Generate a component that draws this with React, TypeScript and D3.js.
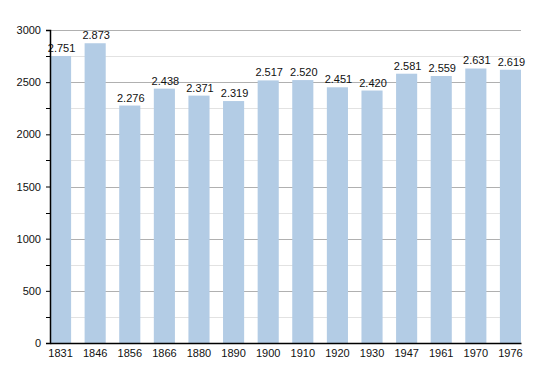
import React, { useRef, useEffect } from "react";
import * as d3 from "d3";

const years = ["1831", "1846", "1856", "1866", "1880", "1890", "1900", "1910", "1920", "1930", "1947", "1961", "1970", "1976"];
const population = [2751, 2873, 2276, 2438, 2371, 2319, 2517, 2520, 2451, 2420, 2581, 2559, 2631, 2619];
const yTicks = [0, 500, 1000, 1500, 2000, 2500, 3000];
const yMinor = [250, 750, 1250, 1750, 2250, 2750];

const App = () => {
  const ref = useRef<SVGSVGElement>(null);

  useEffect(() => {
    const width = 550;
    const height = 373;
    const margin = { top: 30, right: 29, bottom: 30, left: 50 };

    const svg = d3.select(ref.current);
    svg.selectAll("*").remove();

    const x = d3
      .scaleBand()
      .domain(years)
      .range([margin.left, width - margin.right])
      .paddingInner(0.39)
      .paddingOuter(0);

    const y = d3
      .scaleLinear()
      .domain([0, 3000])
      .range([height - margin.bottom, margin.top]);

    const fmt = (v: number) => d3.format(",")(v).replace(/,/g, ".");

    // mřížka
    svg
      .append("g")
      .selectAll("line")
      .data(yMinor)
      .join("line")
      .attr("x1", margin.left)
      .attr("x2", width - margin.right)
      .attr("y1", (d) => Math.round(y(d)) + 0.5)
      .attr("y2", (d) => Math.round(y(d)) + 0.5)
      .attr("stroke", "#e2e2e2");

    svg
      .append("g")
      .selectAll("line")
      .data(yTicks.slice(1))
      .join("line")
      .attr("x1", margin.left)
      .attr("x2", width - margin.right)
      .attr("y1", (d) => Math.round(y(d)) + 0.5)
      .attr("y2", (d) => Math.round(y(d)) + 0.5)
      .attr("stroke", "#b0b0b0");

    // sloupce
    svg
      .append("g")
      .attr("fill", "#b3cce5")
      .selectAll("rect")
      .data(population)
      .join("rect")
      .attr("x", (d, i) => x(years[i])!)
      .attr("y", (d) => y(d))
      .attr("width", x.bandwidth())
      .attr("height", (d) => y(0) - y(d));

    // hodnoty nad sloupci
    svg
      .append("g")
      .attr("font-family", "Liberation Sans, Arial, sans-serif")
      .attr("font-size", "11px")
      .attr("fill", "#111")
      .attr("text-anchor", "middle")
      .selectAll("text")
      .data(population)
      .join("text")
      .attr("x", (d, i) => x(years[i])! + x.bandwidth() / 2 + 1)
      .attr("y", (d) => y(d) - 4)
      .text((d) => fmt(d));

    // osy
    const yAxis = svg
      .append("g")
      .attr("transform", `translate(${margin.left},0)`)
      .call(d3.axisLeft(y).tickValues(yTicks).tickSize(4).tickFormat((d) => String(d)));
    yAxis.select(".domain").attr("stroke", "#000").attr("stroke-width", 1.5);
    yAxis.selectAll("text").attr("font-family", "Liberation Sans, Arial, sans-serif").attr("font-size", "11px").attr("fill", "#111").attr("x", -9);

    svg
      .append("g")
      .selectAll("line")
      .data(yMinor)
      .join("line")
      .attr("x1", margin.left - 4)
      .attr("x2", margin.left)
      .attr("y1", (d) => Math.round(y(d)) + 0.5)
      .attr("y2", (d) => Math.round(y(d)) + 0.5)
      .attr("stroke", "#000");

    const xAxis = svg
      .append("g")
      .attr("transform", `translate(0,${height - margin.bottom})`)
      .call(d3.axisBottom(x).tickSize(0));
    xAxis.select(".domain").attr("stroke", "#000").attr("stroke-width", 1.5);
    xAxis.selectAll("text").attr("font-family", "Liberation Sans, Arial, sans-serif").attr("font-size", "11px").attr("fill", "#111").attr("dy", "1em").attr("y", 3);
  }, []);

  return (
    <svg ref={ref} width={550} height={373} style={{ position: "absolute", left: 0, top: 0, background: "#fff" }} />
  );
};

export default App;
